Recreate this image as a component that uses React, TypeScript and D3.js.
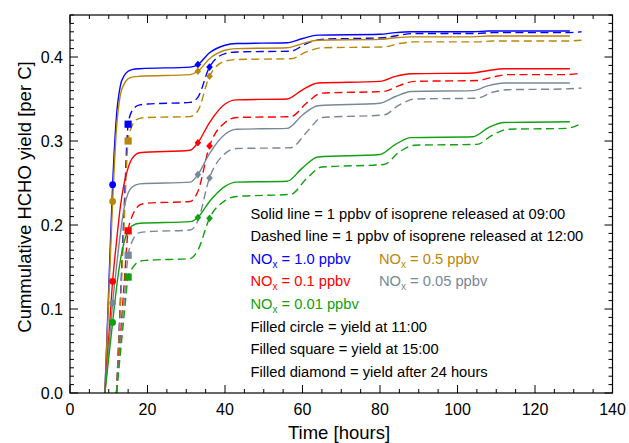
import React from "react";
import * as d3 from "d3";

// ---- data ----
const solidT = [9, 10, 11, 12, 13, 14, 15, 16, 18, 31, 33, 36, 40, 43, 56, 60, 64, 80, 84, 88, 104, 108, 112, 129];
const dashedT = [12, 13, 14, 15, 16, 17, 18, 20, 31, 33, 36, 40, 43, 57, 61, 65, 81, 85, 89, 105, 109, 113, 128, 132];

const blueSolid = [0, 0.125, 0.248, 0.33, 0.366, 0.378, 0.383, 0.385, 0.386, 0.388, 0.391, 0.405, 0.414, 0.416, 0.417, 0.422, 0.426, 0.427, 0.429, 0.43, 0.43, 0.431, 0.431, 0.431];
const goldSolid = [0, 0.115, 0.228, 0.315, 0.355, 0.368, 0.374, 0.376, 0.377, 0.379, 0.383, 0.398, 0.408, 0.41, 0.411, 0.416, 0.42, 0.421, 0.423, 0.424, 0.424, 0.425, 0.425, 0.425];
const redSolid = [0, 0.066, 0.133, 0.18, 0.222, 0.25, 0.268, 0.279, 0.286, 0.289, 0.298, 0.322, 0.344, 0.349, 0.35, 0.361, 0.369, 0.371, 0.377, 0.38, 0.381, 0.384, 0.386, 0.386];
const graySolid = [0, 0.053, 0.107, 0.15, 0.19, 0.221, 0.238, 0.245, 0.249, 0.251, 0.26, 0.285, 0.308, 0.314, 0.315, 0.331, 0.342, 0.345, 0.353, 0.359, 0.36, 0.366, 0.369, 0.369];
const greenSolid = [0, 0.042, 0.084, 0.125, 0.158, 0.18, 0.193, 0.199, 0.202, 0.204, 0.209, 0.228, 0.246, 0.251, 0.252, 0.268, 0.281, 0.284, 0.296, 0.304, 0.305, 0.316, 0.322, 0.323];

const blueDashed = [0, 0.11, 0.222, 0.32, 0.336, 0.341, 0.343, 0.344, 0.346, 0.352, 0.388, 0.404, 0.406, 0.407, 0.416, 0.421, 0.423, 0.426, 0.428, 0.428, 0.429, 0.429, 0.429, 0.43];
const goldDashed = [0, 0.102, 0.205, 0.3, 0.318, 0.325, 0.327, 0.328, 0.329, 0.336, 0.377, 0.395, 0.397, 0.398, 0.406, 0.411, 0.412, 0.416, 0.418, 0.418, 0.419, 0.419, 0.419, 0.42];
const redDashed = [0, 0.066, 0.132, 0.193, 0.21, 0.219, 0.224, 0.226, 0.228, 0.24, 0.294, 0.322, 0.328, 0.329, 0.345, 0.357, 0.359, 0.366, 0.371, 0.372, 0.376, 0.379, 0.379, 0.381];
const grayDashed = [0, 0.056, 0.112, 0.164, 0.18, 0.188, 0.191, 0.192, 0.194, 0.205, 0.256, 0.285, 0.291, 0.292, 0.31, 0.328, 0.331, 0.343, 0.35, 0.351, 0.358, 0.361, 0.362, 0.363];
const greenDashed = [0, 0.047, 0.094, 0.138, 0.148, 0.154, 0.157, 0.158, 0.16, 0.17, 0.208, 0.229, 0.234, 0.2365, 0.255, 0.269, 0.272, 0.287, 0.295, 0.296, 0.307, 0.314, 0.315, 0.321];

const seriesNames = ["1.0", "0.5", "0.1", "0.05", "0.01"];
const seriesColors = ["#0000ff", "#b8860b", "#ff0000", "#778899", "#10a010"];
const solidSeries = [blueSolid, goldSolid, redSolid, graySolid, greenSolid];
const dashedSeries = [blueDashed, goldDashed, redDashed, grayDashed, greenDashed];

const circleTime = 11; // on solid
const squareTime = 15; // on dashed
const diamondSolidTime = 33;
const diamondDashedTime = 36;

const xMajorTicks = [0, 20, 40, 60, 80, 100, 120, 140];
const yMajorTicks = [0.0, 0.1, 0.2, 0.3, 0.4];

const legendLines = [
  "Solid line = 1 ppbv of isoprene released at 09:00",
  "Dashed line = 1 ppbv of isoprene released at 12:00",
];
const markerLines = [
  "Filled circle = yield at 11:00",
  "Filled square = yield at 15:00",
  "Filled diamond = yield after 24 hours",
];

// ---- layout ----
const W = 629, H = 443;
const L = 70, R = 612.5, T = 15, B = 393;
const FONT = "'Liberation Sans', Arial, Helvetica, sans-serif";

export default function App() {
  const x = d3.scaleLinear().domain([0, 140]).range([L, R]);
  const y = d3.scaleLinear().domain([0, 0.45]).range([B, T]);
  const line = d3
    .line<[number, number]>()
    .x((d) => x(d[0]))
    .y((d) => y(d[1]))
    .curve(d3.curveMonotoneX);

  const xMinor = d3.range(0, 141, 5);
  const yMinor = d3.range(0, 46).map((i) => i / 100);

  const valAt = (ts: number[], vs: number[], t: number) => vs[ts.indexOf(t)];

  const tickEls: React.ReactNode[] = [];
  xMinor.forEach((v, i) => {
    const major = v % 20 === 0;
    const len = major ? 8 : 4;
    tickEls.push(<line key={"xb" + i} x1={x(v)} x2={x(v)} y1={B} y2={B - len} />);
    tickEls.push(<line key={"xt" + i} x1={x(v)} x2={x(v)} y1={T} y2={T + len} />);
  });
  yMinor.forEach((v, i) => {
    const major = i % 10 === 0;
    const len = major ? 8 : 4;
    tickEls.push(<line key={"yl" + i} x1={L} x2={L + len} y1={y(v)} y2={y(v)} />);
    tickEls.push(<line key={"yr" + i} x1={R} x2={R - len} y1={y(v)} y2={y(v)} />);
  });

  const diamond = (cx: number, cy: number) =>
    `M${cx},${cy - 3.8}L${cx + 3.3},${cy}L${cx},${cy + 3.8}L${cx - 3.3},${cy}Z`;

  const legendX = 250.5;
  const legendX2 = 379;
  const rowY = (i: number) => 218.5 + i * 22.6;

  const noxText = (i: number, xx: number, yy: number) => (
    <text key={"nox" + i} x={xx} y={yy} fill={seriesColors[i]} fontSize={14.7} fontFamily={FONT}>
      NO
      <tspan fontSize={10} dy={4}>x</tspan>
      <tspan dy={-4}>{` = ${seriesNames[i]} ppbv`}</tspan>
    </text>
  );

  return (
    <svg width={W} height={H} style={{ position: "absolute", left: 0, top: 0, background: "#fff" }}>
      <rect x={0} y={0} width={W} height={H} fill="#fff" />
      {/* curves */}
      {solidSeries.map((vs, i) => (
        <g key={"s" + i}>
          <path
            d={line(solidT.map((t, k) => [t, vs[k]] as [number, number])) || ""}
            fill="none"
            stroke={seriesColors[i]}
            strokeWidth={1.4}
          />
          <path
            d={line(dashedT.map((t, k) => [t, dashedSeries[i][k]] as [number, number])) || ""}
            fill="none"
            stroke={seriesColors[i]}
            strokeWidth={1.4}
            strokeDasharray="8,4.5"
          />
        </g>
      ))}
      {/* markers */}
      {solidSeries.map((vs, i) => {
        const c = seriesColors[i];
        const cv = valAt(solidT, vs, circleTime);
        const sv = valAt(dashedT, dashedSeries[i], squareTime);
        const d1 = valAt(solidT, vs, diamondSolidTime);
        const d2 = valAt(dashedT, dashedSeries[i], diamondDashedTime);
        return (
          <g key={"m" + i} fill={c}>
            <circle cx={x(circleTime)} cy={y(cv)} r={3.4} />
            <rect x={x(squareTime) - 3.6} y={y(sv) - 3.6} width={7.2} height={7.2} />
            <path d={diamond(x(diamondSolidTime), y(d1))} />
            <path d={diamond(x(diamondDashedTime), y(d2))} />
          </g>
        );
      })}
      {/* frame + ticks */}
      <g stroke="#000" strokeWidth={1}>{tickEls}</g>
      <rect x={L} y={T} width={R - L} height={B - T} fill="none" stroke="#000" strokeWidth={1.2} />
      {/* tick labels */}
      {xMajorTicks.map((v) => (
        <text key={"xl" + v} x={x(v)} y={415} textAnchor="middle" fontSize={16} fontFamily={FONT} fill="#000">
          {v}
        </text>
      ))}
      {yMajorTicks.map((v) => (
        <text key={"yl" + v} x={63} y={y(v) + 5.7} textAnchor="end" fontSize={16} fontFamily={FONT} fill="#000">
          {v.toFixed(1)}
        </text>
      ))}
      {/* axis titles */}
      <text x={339} y={439} textAnchor="middle" fontSize={18.5} fontFamily={FONT} fill="#000">
        Time [hours]
      </text>
      <text
        transform={`translate(31,197) rotate(-90)`}
        textAnchor="middle"
        fontSize={18.5}
        fontFamily={FONT}
        fill="#000"
      >
        Cummulative HCHO yield [per C]
      </text>
      {/* legend */}
      {legendLines.map((s, i) => (
        <text key={"lg" + i} x={legendX} y={rowY(i)} fontSize={14.7} fontFamily={FONT} fill="#000">
          {s}
        </text>
      ))}
      {noxText(0, legendX, rowY(2))}
      {noxText(1, legendX2, rowY(2))}
      {noxText(2, legendX, rowY(3))}
      {noxText(3, legendX2, rowY(3))}
      {noxText(4, legendX, rowY(4))}
      {markerLines.map((s, i) => (
        <text key={"mk" + i} x={legendX} y={rowY(5 + i)} fontSize={14.7} fontFamily={FONT} fill="#000">
          {s}
        </text>
      ))}
    </svg>
  );
}
